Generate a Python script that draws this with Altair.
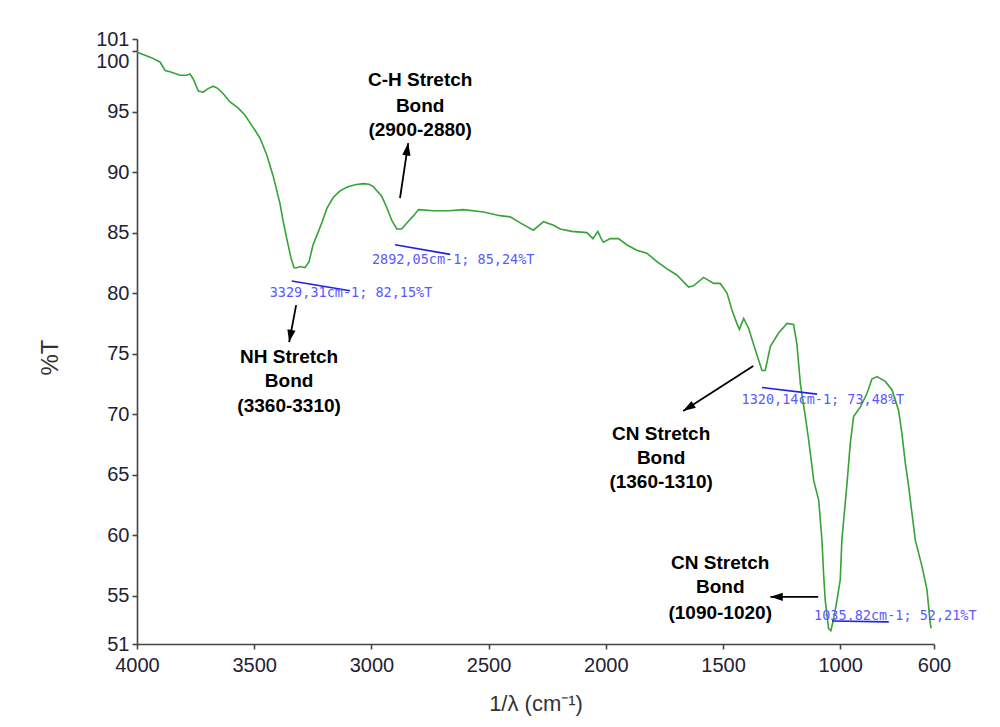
import altair as alt
import pandas as pd

# Spectrum (wavenumber cm-1, %T)
wavenumber = [4000, 3991, 3944, 3902, 3880, 3859, 3816, 3788, 3774, 3760, 3738, 3718, 3697, 3675, 3654,
              3633, 3603, 3569, 3539, 3505, 3475, 3446, 3418, 3390, 3377, 3360, 3343, 3330, 3318, 3304,
              3283, 3266, 3249, 3228, 3210, 3190, 3163, 3134, 3105, 3070, 3035, 3010, 2992, 2956, 2935,
              2913, 2892, 2871, 2849, 2820, 2799, 2735, 2670, 2607, 2522, 2451, 2408, 2365, 2309, 2266,
              2223, 2195, 2145, 2081, 2055, 2034, 2020, 2010, 1981, 1946, 1911, 1868, 1825, 1782, 1739,
              1697, 1647, 1626, 1583, 1540, 1512, 1483, 1462, 1441, 1430, 1412, 1391, 1362, 1334, 1320,
              1298, 1263, 1227, 1199, 1185, 1170, 1149, 1135, 1113, 1092, 1078, 1071, 1064, 1050, 1040,
              1029, 1014, 1000, 993, 971, 957, 943, 914, 886, 865, 843, 808, 779, 751, 737,
              722, 708, 680, 651, 630, 616, 612]
transmittance = [99.9, 99.85, 99.5, 99.1, 98.4, 98.3, 98.0, 98.0, 98.1, 97.7, 96.7, 96.6, 96.9, 97.1, 96.9,
                 96.5, 95.8, 95.3, 94.7, 93.7, 92.8, 91.4, 89.6, 87.4, 86.0, 84.4, 82.9, 82.1, 82.1, 82.2,
                 82.1, 82.6, 84.0, 85.0, 85.9, 87.0, 87.9, 88.45, 88.75, 88.95, 89.05, 89.0, 88.8, 88.0, 87.1,
                 86.0, 85.3, 85.3, 85.8, 86.4, 86.9, 86.8, 86.8, 86.9, 86.7, 86.4, 86.3, 85.8, 85.2, 85.9,
                 85.6, 85.3, 85.1, 85.0, 84.5, 85.1, 84.5, 84.2, 84.5, 84.5, 84.0, 83.55, 83.3, 82.6, 82.0,
                 81.5, 80.5, 80.6, 81.3, 80.8, 80.8, 80.0, 78.6, 77.5, 77.0, 77.9, 77.1, 75.3, 73.6, 73.6,
                 75.6, 76.7, 77.5, 77.4, 75.8, 72.5, 69.8, 67.9, 64.5, 62.9, 59.6, 56.8, 54.6, 52.3, 52.1,
                 53.0, 54.6, 56.3, 59.6, 64.3, 67.6, 69.8, 70.6, 71.7, 72.9, 73.1, 72.7, 72.0, 70.3, 68.4,
                 65.9, 64.0, 59.6, 57.4, 55.5, 52.7, 52.3]

x_ticks = [4000, 3500, 3000, 2500, 2000, 1500, 1000, 600]
y_ticks = [51, 55, 60, 65, 70, 75, 80, 85, 90, 95, 100, 101]

# Peak picker labels (blue)
peak_labels = ["3329,31cm-1; 82,15%T", "2892,05cm-1; 85,24%T", "1320,14cm-1; 73,48%T", "1035,82cm-1; 52,21%T"]
peak_label_x = [3087, 2651, 1074, 765]
peak_label_y = [80.0, 82.75, 71.2, 53.3]
peak_line_x1 = [3340, 2899, 1334, 1035]
peak_line_y1 = [81.0, 84.0, 72.2, 52.9]
peak_line_x2 = [3091, 2664, 1099, 793]
peak_line_y2 = [80.2, 83.2, 71.65, 52.83]

# Bond annotations (black)
note_lines = ["C-H Stretch", "Bond", "(2900-2880)",
              "NH Stretch", "Bond", "(3360-3310)",
              "CN Stretch", "Bond", "(1360-1310)",
              "CN Stretch", "Bond", "(1090-1020)"]
note_x = [2792, 2792, 2792, 3351, 3351, 3351, 1764, 1764, 1764, 1512, 1512, 1512]
note_y = [97.6, 95.5, 93.5, 74.7, 72.7, 70.7, 68.35, 66.4, 64.4, 57.7, 55.7, 53.6]

arrow_x1 = [2878, 3321, 1371, 1094]
arrow_y1 = [87.85, 79.0, 73.97, 54.9]
arrow_x2 = [2843, 3351, 1670, 1298]
arrow_y2 = [92.4, 75.95, 70.25, 54.9]
arrow_angle = [8.3, 190.7, 237.3, 270]

spec = pd.DataFrame({"wn": wavenumber, "T": transmittance})
peaks = pd.DataFrame({"label": peak_labels, "lx": peak_label_x, "ly": peak_label_y,
                      "x1": peak_line_x1, "y1": peak_line_y1, "x2": peak_line_x2, "y2": peak_line_y2})
notes = pd.DataFrame({"text": note_lines, "x": note_x, "y": note_y})
arrows = pd.DataFrame({"x1": arrow_x1, "y1": arrow_y1, "x2": arrow_x2, "y2": arrow_y2, "angle": arrow_angle})

xscale = alt.Scale(domain=[600, 4000], reverse=True, nice=False, zero=False)
yscale = alt.Scale(domain=[51, 101], nice=False, zero=False)

line = alt.Chart(spec).mark_line(color="#36a336", strokeWidth=1.6, interpolate="linear").encode(
    x=alt.X("wn:Q", scale=xscale,
            axis=alt.Axis(values=x_ticks, format="d", title="1/λ (cm⁻¹)", labelFlush=False,
                          labelOverlap=False, labelPadding=6, titleY=59, titleBaseline="middle",
                          titleFontSize=22)),
    y=alt.Y("T:Q", scale=yscale,
            axis=alt.Axis(values=y_ticks, format="d", title="%T", labelOverlap=False, labelFlush=False,
                          labelBaseline=alt.expr("datum.value == 100 ? 'top' : 'middle'"),
                          titleX=-87, titleY=318, titleAngle=270, titleAlign="center",
                          titleBaseline="middle", titleFontSize=24)),
    order=alt.Order("wn:Q", sort="descending"),
)

peak_lines = alt.Chart(peaks).mark_rule(color="#1f1fe6", strokeWidth=1.6).encode(
    x="x1:Q", x2="x2:Q", y="y1:Q", y2="y2:Q")
peak_text = alt.Chart(peaks).mark_text(font="DejaVu Sans Mono", fontSize=13.5, color="#5a5aff",
                                       align="center", baseline="middle").encode(
    x="lx:Q", y="ly:Q", text="label:N")

arrow_shafts = alt.Chart(arrows).mark_rule(color="black", strokeWidth=1.8).encode(
    x="x1:Q", x2="x2:Q", y="y1:Q", y2="y2:Q")
arrow_heads = alt.Chart(arrows).mark_point(shape="M0,0L0.6,1.8L-0.6,1.8Z", filled=True, opacity=1,
                                           color="black", size=190, strokeWidth=0).encode(
    x="x2:Q", y="y2:Q", angle=alt.Angle("angle:Q", scale=None))

note_text = alt.Chart(notes).mark_text(font="Liberation Sans", fontSize=19, fontWeight="bold",
                                       color="black", align="center", baseline="middle").encode(
    x="x:Q", y="y:Q", text="text:N")

chart = alt.layer(line, peak_lines, peak_text, arrow_shafts, arrow_heads, note_text).properties(
    width=797, height=605,
    padding={"left": 129, "top": 31, "right": 55, "bottom": 74},
    autosize=alt.AutoSizeParams(type="none"),
).configure_view(stroke=None).configure_axis(
    grid=False, domainColor="#444444", domainWidth=1.6, tickColor="#444444", tickWidth=1.6, tickSize=5,
    labelFont="Liberation Sans", labelFontSize=20, labelColor="#222233",
    labelPadding=3, titleFont="Liberation Sans", titleFontWeight="normal",
    titleColor="#333333",
)

chart.save("out.html", embed_options={"renderer": "svg", "actions": False})
